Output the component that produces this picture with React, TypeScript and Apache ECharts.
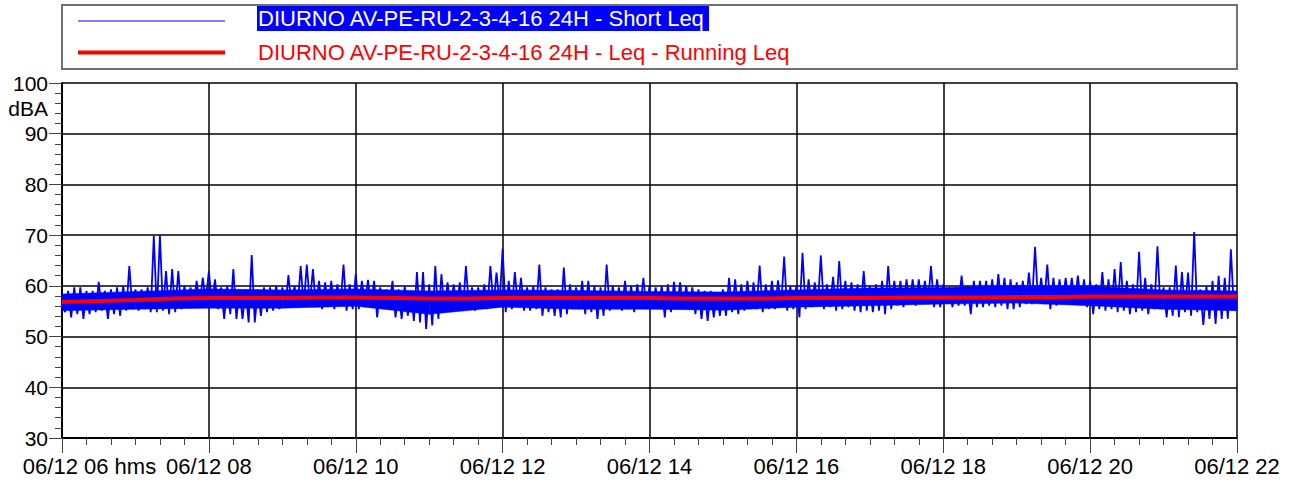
import React, { useEffect, useRef } from "react";
import * as echarts from "echarts";

// Short Leq envelope: per hour, 12 five-minute buckets (upper / lower values, dBA)
const hi06 = [58.2, 59.0, 59.7, 59.7, 59.0, 59.0, 60.8, 59.0, 59.3, 59.7, 60.0, 63.9];
const lo06 = [54.8, 53.8, 54.4, 53.5, 54.4, 54.8, 55.1, 53.5, 54.4, 54.1, 55.1, 55.4];
const hi07 = [59.3, 59.3, 59.7, 69.8, 70.0, 62.9, 63.3, 62.9, 60.0, 59.7, 61.0, 61.6];
const lo07 = [55.1, 55.4, 54.8, 54.8, 55.1, 54.4, 54.8, 55.4, 55.8, 55.8, 56.4, 57.1];
const hi08 = [62.9, 61.3, 59.7, 60.0, 63.3, 59.3, 59.3, 66.1, 59.3, 59.7, 59.7, 60.0];
const lo08 = [56.4, 55.4, 53.5, 54.4, 53.5, 53.5, 52.8, 52.8, 54.1, 54.8, 55.1, 55.4];
const hi09 = [59.7, 62.1, 60.0, 63.9, 64.2, 63.3, 61.0, 60.7, 61.0, 60.3, 64.2, 60.3];
const lo09 = [55.8, 56.1, 55.8, 56.1, 56.4, 55.8, 55.4, 55.8, 55.4, 56.1, 55.1, 55.4];
const hi10 = [62.3, 61.0, 61.2, 61.0, 59.7, 59.3, 61.0, 59.3, 60.0, 59.0, 62.7, 62.7];
const lo10 = [55.4, 56.4, 55.8, 53.8, 55.4, 55.8, 53.8, 53.5, 54.1, 53.1, 52.8, 51.5];
const hi11 = [60.3, 63.9, 62.3, 60.7, 60.3, 60.7, 63.9, 59.7, 59.7, 60.3, 63.9, 62.6];
const lo11 = [52.2, 53.5, 54.8, 55.4, 55.8, 55.1, 55.8, 55.1, 56.1, 55.4, 56.1, 56.4];
const hi12 = [67.3, 61.0, 62.7, 61.6, 59.7, 60.0, 64.2, 59.7, 59.3, 59.3, 63.6, 60.3];
const lo12 = [54.8, 55.4, 55.8, 55.1, 55.1, 55.4, 54.1, 54.8, 54.1, 53.8, 54.4, 55.4];
const hi13 = [59.7, 61.0, 61.0, 60.0, 59.7, 64.2, 60.0, 59.7, 61.0, 60.0, 60.3, 61.6];
const lo13 = [55.4, 54.4, 54.8, 53.5, 54.1, 55.1, 55.4, 55.1, 55.4, 54.8, 55.8, 55.4];
const hi14 = [60.0, 59.7, 60.0, 60.3, 60.8, 60.7, 60.0, 59.7, 59.3, 59.0, 59.0, 58.7];
const lo14 = [55.4, 55.8, 53.8, 54.8, 55.4, 55.8, 55.4, 54.4, 53.5, 53.1, 53.8, 54.1];
const hi15 = [59.3, 61.6, 61.3, 60.3, 61.0, 60.7, 64.0, 60.3, 61.0, 61.1, 65.8, 60.0];
const lo15 = [54.1, 54.8, 54.4, 55.1, 55.4, 55.4, 54.8, 55.4, 55.4, 55.8, 55.1, 55.4];
const hi16 = [60.0, 66.5, 61.3, 60.7, 66.0, 60.3, 61.8, 64.9, 61.0, 60.7, 60.3, 62.9];
const lo16 = [53.8, 55.4, 55.8, 56.1, 55.4, 55.8, 55.1, 55.4, 55.8, 55.1, 54.8, 55.1];
const hi17 = [60.0, 60.3, 61.0, 63.9, 61.0, 61.0, 61.3, 61.3, 61.3, 61.0, 63.9, 61.3];
const lo17 = [54.8, 55.1, 54.4, 55.4, 56.1, 55.8, 56.4, 56.1, 56.4, 56.4, 55.8, 55.8];
const hi18 = [60.3, 59.7, 59.7, 62.0, 60.0, 61.0, 61.0, 61.0, 61.3, 62.3, 61.6, 61.3];
const lo18 = [56.7, 55.8, 56.1, 56.1, 54.4, 55.8, 55.8, 56.1, 55.8, 56.1, 55.4, 55.4];
const hi19 = [60.7, 61.0, 62.6, 67.7, 61.6, 64.2, 61.6, 61.3, 61.6, 61.6, 62.0, 61.3];
const lo19 = [55.8, 56.4, 56.4, 56.7, 56.4, 55.4, 56.1, 56.4, 56.7, 56.7, 56.4, 55.8];
const hi20 = [61.0, 60.3, 62.7, 61.3, 63.3, 64.7, 61.0, 60.3, 66.7, 61.6, 60.3, 67.8];
const lo20 = [54.4, 55.4, 55.1, 55.4, 54.8, 55.1, 54.4, 54.8, 55.1, 54.4, 55.4, 55.4];
const hi21 = [59.7, 59.7, 64.0, 62.7, 62.6, 70.6, 59.3, 60.0, 61.0, 62.0, 61.6, 67.2];
const lo21 = [53.8, 54.1, 53.8, 54.8, 54.1, 54.8, 52.3, 53.5, 52.5, 53.5, 53.5, 55.1];

// Dense (solid) core of the Short Leq trace, at each hour 06..22
const coreHi = [58.4, 58.9, 59.4, 59.2, 59.4, 59.0, 59.2, 59.1, 58.9, 58.8, 59.2, 59.6, 59.7, 60.0, 59.9, 59.2, 59.0];
const coreLo = [55.1, 55.4, 55.6, 55.6, 56.0, 54.4, 55.8, 55.4, 55.4, 55.2, 55.8, 56.1, 56.4, 56.6, 56.1, 55.4, 55.1];

// Running Leq every 30 minutes from 06:00 to 22:00
const runningLeq = [
  56.8, 57.0, 57.2, 57.5, 57.6, 57.6, 57.6, 57.7, 57.7, 57.6, 57.5, 57.5,
  57.6, 57.6, 57.6, 57.6, 57.6, 57.5, 57.5, 57.5, 57.6, 57.6, 57.6, 57.7,
  57.7, 57.7, 57.8, 57.8, 57.9, 57.9, 57.9, 57.9, 57.9,
];

const xTickHours = [6, 8, 10, 12, 14, 16, 18, 20, 22];
const yTicks = [30, 40, 50, 60, 70, 80, 90, 100];
const seriesNames = [
  "DIURNO AV-PE-RU-2-3-4-16 24H - Short Leq",
  "DIURNO AV-PE-RU-2-3-4-16 24H - Leq - Running Leq",
];
const datePrefix = "06/12";
const unitLabel = "dBA";

const HI = [hi06, hi07, hi08, hi09, hi10, hi11, hi12, hi13, hi14, hi15, hi16, hi17, hi18, hi19, hi20, hi21];
const LO = [lo06, lo07, lo08, lo09, lo10, lo11, lo12, lo13, lo14, lo15, lo16, lo17, lo18, lo19, lo20, lo21];

const FONT = "'Liberation Sans', Arial, sans-serif";

export default function App() {
  const ref = useRef<HTMLDivElement>(null);
  useEffect(() => {
    if (!ref.current) return;
    const chart = echarts.init(ref.current, undefined, { renderer: "svg" });

    const shortData: [number, number][] = [];
    HI.forEach((row, h) =>
      row.forEach((v, k) => {
        const t = 6 + h + k / 12;
        shortData.push([t, v]);
        shortData.push([t + 1 / 24, LO[h][k]]);
      })
    );
    const runData = runningLeq.map((v, i) => [6 + i * 0.5, v]);
    // segments of the solid core: [t0, lo0, hi0, t1, lo1, hi1]
    const coreSegs = coreLo.slice(0, -1).map((v, i) => [
      6 + i, v, coreHi[i], 7 + i, coreLo[i + 1], coreHi[i + 1],
    ]);

    const pad = (n: number) => (n < 10 ? "0" + n : "" + n);

    chart.setOption({
      animation: false,
      backgroundColor: "#ffffff",
      grid: { left: 62, right: 61, top: 83, bottom: 46, containLabel: false },
      xAxis: {
        type: "value",
        min: xTickHours[0],
        max: xTickHours[xTickHours.length - 1],
        interval: 2,
        axisLine: { show: true, onZero: false, lineStyle: { color: "#000", width: 2 } },
        axisTick: { show: true, length: 15, lineStyle: { color: "#444", width: 1 } },
        minorTick: { show: true, splitNumber: 6, length: 7, lineStyle: { color: "#444", width: 1 } },
        splitLine: { show: true, lineStyle: { color: "#000", width: 1.5 } },
        axisLabel: {
          margin: 17,
          color: "#000",
          fontSize: 22,
          fontFamily: FONT,
          formatter: (v: number) =>
            v === xTickHours[0]
              ? `{a|${datePrefix} ${pad(v)} hms}`
              : `{b|${datePrefix} ${pad(v)}}`,
          rich: {
            a: { fontSize: 22, fontFamily: FONT, color: "#000", padding: [0, 0, 0, 55] },
            b: { fontSize: 22, fontFamily: FONT, color: "#000" },
          },
        },
      },
      yAxis: {
        type: "value",
        min: yTicks[0],
        max: yTicks[yTicks.length - 1],
        interval: 10,
        axisLine: { show: true, lineStyle: { color: "#000", width: 2 } },
        axisTick: { show: true, length: 13, lineStyle: { color: "#444", width: 1 } },
        minorTick: { show: true, splitNumber: 5, length: 7, lineStyle: { color: "#444", width: 1 } },
        splitLine: { show: true, lineStyle: { color: "#000", width: 1.5 } },
        axisLabel: { margin: 14, color: "#000", fontSize: 21, fontFamily: FONT },
      },
      graphic: [
        {
          type: "rect",
          shape: { x: 62, y: 5, width: 1175, height: 64 },
          style: { fill: "#fff", stroke: "#707070", lineWidth: 2 },
        },
        {
          type: "line",
          shape: { x1: 78, y1: 21, x2: 225, y2: 21 },
          style: { stroke: "#0000ff", lineWidth: 1 },
        },
        {
          type: "line",
          shape: { x1: 78, y1: 52.5, x2: 225, y2: 52.5 },
          style: { stroke: "#ff0000", lineWidth: 4 },
        },
        {
          type: "rect",
          shape: { x: 257, y: 6, width: 452, height: 25 },
          style: { fill: "#0000ff" },
        },
        {
          type: "text",
          x: 258,
          y: 18.5,
          style: {
            text: seriesNames[0],
            fill: "#ffffff",
            font: `22px ${FONT}`,
            verticalAlign: "middle",
          },
        },
        {
          type: "text",
          x: 258,
          y: 52,
          style: {
            text: seriesNames[1],
            fill: "#ff0000",
            font: `22px ${FONT}`,
            verticalAlign: "middle",
          },
        },
        {
          type: "text",
          x: 48,
          y: 108.5,
          style: {
            text: unitLabel,
            fill: "#000",
            font: `21px ${FONT}`,
            align: "right",
            verticalAlign: "middle",
          },
        },
      ],
      series: [
        {
          name: "core",
          type: "custom",
          silent: true,
          z: 1,
          data: coreSegs,
          encode: { x: [0, 3], y: [1, 2, 4, 5] },
          renderItem: (_params: any, api: any) => {
            const a = api.coord([api.value(0), api.value(2)]);
            const b = api.coord([api.value(3), api.value(5)]);
            const c = api.coord([api.value(3), api.value(4)]);
            const d = api.coord([api.value(0), api.value(1)]);
            return {
              type: "polygon",
              shape: { points: [a, b, c, d] },
              style: { fill: "#0000ff", stroke: "#0000ff", lineWidth: 0.5 },
            };
          },
        },
        {
          name: seriesNames[0],
          type: "line",
          data: shortData,
          showSymbol: false,
          symbol: "none",
          lineStyle: { color: "#0000ff", width: 1.8 },
          z: 2,
        },
        {
          name: seriesNames[1],
          type: "line",
          data: runData,
          showSymbol: false,
          symbol: "none",
          lineStyle: { color: "#ff0000", width: 4 },
          z: 3,
        },
      ],
    });
    return () => chart.dispose();
  }, []);

  return (
    <div
      ref={ref}
      style={{ position: "absolute", left: 0, top: 0, width: 1298, height: 484 }}
    />
  );
}
